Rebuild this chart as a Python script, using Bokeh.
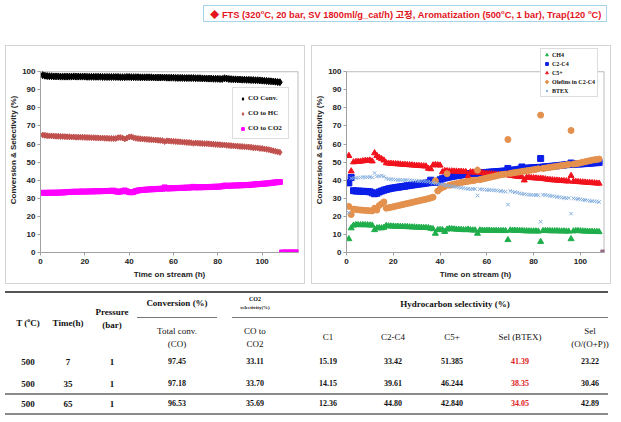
from bokeh.plotting import figure
from bokeh.models import Range1d, FixedTicker, Legend, LegendItem, Div
from bokeh.layouts import column, row
from bokeh.embed import file_html
from bokeh.resources import INLINE

# ---------------- data: left chart ----------------
hours_left = list(range(1, 117))
co_conv = [98.1, 97.8, 97.6, 97.5, 97.5, 97.4, 97.4, 97.4, 97.3, 97.3,
           97.3, 97.3, 97.3, 97.3, 97.4, 97.3, 97.3, 97.3, 97.3, 97.3,
           97.2, 97.2, 97.2, 97.2, 97.2, 97.2, 97.2, 97.1, 97.1, 97.1,
           97.1, 97.1, 97.1, 97.1, 97.1, 97.0, 97.0, 97.0, 97.1, 97.1,
           97.0, 97.0, 97.0, 97.0, 96.9, 96.9, 96.9, 96.9, 96.9, 96.9,
           96.8, 96.8, 96.8, 96.8, 96.8, 96.8, 96.7, 96.7, 96.7, 96.7,
           96.6, 96.6, 96.6, 96.6, 96.5, 96.5, 96.5, 96.5, 96.5, 96.4,
           96.4, 96.4, 96.3, 96.3, 96.2, 96.2, 96.2, 96.1, 96.1, 96.1,
           96.0, 96.0, 96.4, 96.2, 96.0, 95.9, 95.8, 95.8, 95.7, 95.7,
           95.6, 95.6, 95.5, 95.5, 95.4, 95.4, 95.3, 95.3, 95.2, 95.1,
           95.0, 94.9, 94.8, 94.7, 94.6, 94.5, 94.3, 94.2]
co_to_hc = [65.0, 64.8, 64.6, 64.5, 64.5, 64.4, 64.3, 64.3, 64.2, 64.2,
            64.1, 64.0, 64.0, 63.9, 63.9, 63.8, 63.8, 63.8, 63.7, 63.7,
            63.6, 63.6, 63.5, 63.5, 63.4, 63.4, 63.3, 63.3, 63.2, 63.2,
            63.1, 63.1, 63.0, 63.1, 63.5, 63.6, 63.4, 62.8, 63.3, 63.9,
            64.0, 63.5, 63.2, 63.0, 62.9, 62.8, 62.7, 62.6, 62.5, 62.4,
            62.3, 62.2, 62.1, 62.0, 61.9, 61.4, 61.8, 61.7, 61.6, 61.5,
            61.4, 61.3, 61.2, 61.1, 61.0, 60.9, 60.8, 60.7, 60.4, 60.6,
            60.5, 60.4, 60.3, 60.2, 60.2, 60.1, 60.0, 59.9, 59.8, 59.7,
            59.6, 59.5, 59.5, 59.3, 59.2, 59.1, 59.0, 58.9, 58.8, 58.7,
            58.6, 58.5, 58.4, 58.3, 58.2, 58.0, 57.9, 57.8, 57.6, 57.5,
            57.3, 57.1, 56.9, 56.6, 56.3, 56.0, 55.7, 55.4]
co_to_co2 = [33.0, 33.0, 33.0, 33.1, 33.0, 33.1, 33.1, 33.1, 33.2, 33.2,
             33.3, 33.4, 33.5, 33.5, 33.6, 33.6, 33.6, 33.7, 33.7, 33.7,
             33.7, 33.8, 33.8, 33.8, 33.9, 33.9, 33.9, 34.0, 34.0, 34.0,
             34.1, 34.1, 34.2, 33.8, 33.6, 33.7, 33.9, 34.3, 33.8, 33.4,
             33.3, 33.5, 34.0, 34.3, 34.5, 34.6, 34.7, 34.8, 34.9, 35.0,
             35.0, 35.1, 35.2, 35.2, 35.3, 36.0, 35.4, 35.5, 35.5, 35.6,
             35.6, 35.7, 35.7, 35.8, 35.8, 35.9, 35.9, 36.0, 36.3, 36.0,
             36.1, 36.1, 36.1, 36.2, 36.2, 36.2, 36.3, 36.3, 36.4, 36.4,
             36.5, 36.6, 37.0, 36.9, 36.9, 37.0, 37.0, 37.1, 37.1, 37.2,
             37.2, 37.3, 37.3, 37.4, 37.5, 37.6, 37.7, 37.8, 37.9, 38.0,
             38.1, 38.2, 38.3, 38.5, 38.6, 38.8, 38.9, 39.0,
             0, 0, 0, 0, 0, 0, 0, 0]

# ---------------- data: right chart ----------------
hours_right = list(range(1, 109))
ch4 = [7.5, 13.5, 15.0, 15.3, 15.3, 15.2, 15.3, 15.2, 15.2, 15.1,
       15.0, 12.5, 13.5, 13.6, 13.5, 13.8, 14.8, 14.6, 14.5, 14.5,
       14.4, 14.4, 14.3, 14.3, 14.2, 14.2, 14.1, 14.0, 14.0, 13.9,
       13.8, 13.8, 13.7, 13.7, 13.6, 13.3, 13.0, 10.5, 12.5, 12.6,
       12.5, 11.5, 12.8, 13.2, 13.0, 12.9, 12.8, 12.7, 12.6, 12.5,
       12.5, 12.8, 12.4, 12.3, 12.3, 10.5, 12.3, 12.2, 12.2, 12.2,
       12.2, 12.1, 12.1, 12.1, 12.0, 12.0, 12.0, 12.0, 7.0, 12.3,
       12.2, 12.2, 12.1, 12.1, 12.0, 11.9, 11.9, 11.8, 11.8, 11.8,
       11.8, 11.7, 6.0, 12.0, 12.0, 12.0, 11.9, 11.9, 11.9, 11.9,
       11.8, 11.8, 11.8, 11.7, 11.7, 7.5, 11.8, 12.0, 12.0, 11.9,
       11.8, 11.7, 11.7, 11.6, 11.6, 11.5, 11.5, 11.4]
c2_c4 = [38.5, 41.5, 34.2, 34.0, 34.0, 33.9, 33.8, 33.8, 33.7, 33.6,
         33.0, 32.5, 32.8, 33.5, 34.0, 34.5, 34.8, 35.2, 35.5, 35.7,
         35.9, 36.1, 36.3, 36.5, 36.7, 36.9, 37.1, 37.3, 37.5, 37.7,
         37.9, 38.0, 38.2, 38.4, 38.6, 40.0, 39.0, 38.8, 39.0, 40.2,
         40.8, 41.2, 41.5, 41.8, 42.0, 42.3, 42.5, 42.7, 42.9, 43.1,
         43.3, 43.5, 43.6, 43.7, 43.8, 44.0, 44.0, 44.1, 44.2, 44.3,
         44.4, 44.5, 44.6, 44.7, 44.8, 44.9, 45.0, 45.1, 46.5, 45.3,
         45.5, 45.7, 45.9, 46.1, 47.3, 46.5, 46.6, 46.7, 46.8, 46.9,
         47.0, 47.1, 52.0, 47.3, 47.4, 47.5, 47.6, 47.7, 47.9, 48.0,
         48.1, 48.3, 48.4, 48.6, 48.7, 49.5, 48.8, 48.9, 49.0, 49.0,
         49.1, 49.2, 49.3, 49.4, 49.5, 49.6, 49.7, 49.8]
c5_plus = [53.5, 45.0, 50.0, 50.2, 50.3, 50.4, 50.6, 50.8, 50.9, 51.0,
           50.5, 55.0, 53.5, 52.5, 51.8, 51.0, 49.5, 49.3, 49.2, 49.1,
           49.0, 48.9, 48.8, 48.7, 48.6, 48.5, 48.4, 48.3, 48.2, 48.1,
           48.0, 47.9, 47.8, 47.7, 46.5, 46.2, 48.3, 48.5, 48.4, 48.2,
           44.5, 45.2, 45.1, 45.0, 45.0, 44.9, 44.9, 44.8, 44.8, 44.7,
           44.6, 42.2, 44.5, 44.4, 44.3, 45.5, 44.2, 44.0, 43.8, 43.6,
           43.5, 43.4, 43.3, 43.2, 43.1, 43.0, 43.0, 42.9, 43.5, 42.6,
           42.4, 42.2, 42.1, 42.0, 41.8, 40.0, 41.5, 41.4, 41.3, 41.2,
           41.1, 41.0, 41.0, 40.8, 40.6, 40.4, 40.2, 40.1, 40.0, 39.9,
           39.8, 39.7, 39.6, 39.5, 39.4, 42.5, 39.3, 39.2, 39.1, 39.0,
           38.9, 38.8, 38.7, 38.6, 38.5, 38.4, 38.3, 38.2]
olefins = [25.5, 21.0, 24.0, 23.8, 23.6, 23.5, 23.4, 23.3, 23.2, 23.1,
           23.0, 24.5, 23.5, 26.0, 27.0, 28.0, 24.5, 24.8, 25.0, 25.3,
           25.6, 25.9, 26.2, 26.5, 26.8, 27.1, 27.4, 27.7, 28.0, 28.3,
           28.6, 28.9, 29.2, 29.5, 29.8, 30.2, 30.6, 39.7, 34.0, 35.2,
           36.0, 36.5, 43.6, 37.2, 37.5, 37.8, 38.1, 38.4, 38.7, 39.0,
           39.2, 39.4, 39.6, 39.8, 40.0, 45.5, 40.3, 40.6, 40.9, 41.2,
           41.5, 41.8, 42.1, 42.4, 42.7, 43.0, 43.2, 43.4, 62.5, 43.7,
           44.0, 44.2, 44.4, 44.6, 44.8, 45.0, 45.2, 45.4, 45.6, 45.8,
           46.0, 46.3, 76.0, 46.5, 46.7, 46.9, 47.1, 47.3, 47.5, 47.7,
           47.9, 48.1, 48.3, 48.5, 48.7, 67.5, 48.9, 49.1, 49.3, 49.6,
           49.9, 50.2, 50.5, 50.8, 51.1, 51.3, 51.5, 51.7]
btex = [22.0, 41.0, 41.2, 41.3, 41.4, 41.5, 41.6, 41.6, 41.7, 41.7,
        41.5, 44.0, 42.0, 42.3, 42.5, 42.0, 41.0, 40.6, 40.5, 40.4,
        40.3, 40.2, 40.2, 40.1, 40.0, 40.0, 39.9, 39.8, 39.8, 39.7,
        39.6, 39.5, 39.4, 39.3, 39.2, 38.8, 38.5, 38.3, 38.0, 37.8,
        37.5, 37.2, 37.0, 36.8, 36.6, 36.4, 36.2, 36.0, 35.8, 35.6,
        35.4, 35.2, 35.0, 35.2, 35.1, 31.5, 35.0, 34.9, 34.8, 34.7,
        34.6, 34.5, 34.4, 34.3, 34.2, 34.0, 33.8, 33.6, 26.5, 34.0,
        33.7, 33.4, 33.1, 32.8, 32.5, 32.3, 32.1, 32.0, 31.9, 31.8,
        31.8, 31.7, 17.0, 32.0, 31.8, 31.6, 31.4, 31.2, 31.0, 30.8,
        30.6, 30.4, 30.2, 30.0, 30.2, 21.5, 30.0, 29.8, 29.6, 29.4,
        29.2, 29.0, 28.8, 28.6, 28.4, 28.3, 28.2, 28.0]
end_hours = [109.8]
end_zero = [0]

x_ticks = [0, 20, 40, 60, 80, 100]
y_ticks = [0, 10, 20, 30, 40, 50, 60, 70, 80, 90, 100]
Y_MAX = 100

# ---------------- table data ----------------
tbl_T = ["500", "500", "500"]
tbl_time = ["7", "35", "65"]
tbl_pressure = ["1", "1", "1"]
tbl_total_conv = ["97.45", "97.18", "96.53"]
tbl_co_to_co2 = ["33.11", "33.70", "35.69"]
tbl_c1 = ["15.19", "14.15", "12.36"]
tbl_c2c4 = ["33.42", "39.61", "44.80"]
tbl_c5p = ["51.385", "46.244", "42.840"]
tbl_btex = ["41.39", "38.35", "34.05"]
tbl_oop = ["23.22", "30.46", "42.89"]

AXF = "Liberation Sans"
LEGF = "Liberation Serif"
FRAME_COL = "#bcbcbc"
AXIS_COL = "#a0a0a0"
HEADROOM = 24   # px of blank frame above y = 100 (legend space)


def make_fig(xmax, mbl, mbr):
    fh = 179 + HEADROOM
    ytop = Y_MAX * fh / 179.0
    p = figure(frame_width=256, frame_height=fh,
               x_range=Range1d(0, xmax), y_range=Range1d(0, ytop),
               output_backend="svg", toolbar_location=None, title_location=None,
               min_border_left=mbl, min_border_right=mbr,
               min_border_top=1, min_border_bottom=33,
               background_fill_color="white", border_fill_color="white",
               margin=0, styles={"border": "1px solid #d4d4d4"})
    p.xgrid.visible = False
    p.ygrid.visible = False
    for ax in (p.xaxis[0], p.yaxis[0]):
        ax.axis_line_color = AXIS_COL
        ax.major_tick_line_color = AXIS_COL
        ax.major_tick_out = 3
        ax.major_tick_in = 0
        ax.minor_tick_line_color = None
        ax.major_label_text_font = AXF
        ax.major_label_text_font_style = "bold"
        ax.major_label_text_font_size = "8px"
        ax.major_label_text_color = "#222222"
        ax.axis_label_text_font = AXF
        ax.axis_label_text_font_style = "bold"
        ax.axis_label_text_font_size = "8px"
        ax.axis_label_text_color = "#222222"
    p.xaxis.ticker = FixedTicker(ticks=x_ticks)
    p.yaxis.ticker = FixedTicker(ticks=y_ticks)
    p.xaxis.axis_label = "Time on stream (h)"
    p.yaxis.axis_label = "Conversion & Selectivity (%)"
    p.xaxis.major_label_standoff = 3
    p.yaxis.major_label_standoff = 2
    p.xaxis.axis_label_standoff = 3
    p.yaxis.axis_label_standoff = 1
    p.outline_line_color = None
    p.yaxis.bounds = (0, Y_MAX)
    # plot-area border at y = 100 and at the right edge
    p.line([0, xmax], [Y_MAX, Y_MAX], line_color=FRAME_COL, line_width=1)
    p.line([xmax, xmax], [0, Y_MAX], line_color=FRAME_COL, line_width=2)
    return p


def style_legend(lg, pad, spacing, fs):
    lg.border_line_color = FRAME_COL
    lg.background_fill_color = "white"
    lg.background_fill_alpha = 1
    lg.padding = pad
    lg.spacing = spacing
    lg.margin = 0
    lg.label_height = 7
    lg.glyph_height = 7
    lg.glyph_width = 7
    lg.label_standoff = 2
    lg.label_text_font = LEGF
    lg.label_text_font_style = "bold"
    lg.label_text_font_size = fs
    lg.label_text_color = "#111111"


# ---------------- left chart ----------------
p1 = make_fig(116.4, 33, 8)
r_conv = p1.scatter(hours_left[:len(co_conv)], co_conv, marker="diamond", size=7,
                    color="#000000")
r_hc = p1.scatter(hours_left[:len(co_to_hc)], co_to_hc, marker="diamond", size=6,
                  color="#c0504d")
r_co2 = p1.scatter(hours_left, co_to_co2, marker="square", size=5, color="#ff00ff")
lg1 = Legend(items=[LegendItem(label="CO Conv.", renderers=[r_conv]),
                    LegendItem(label="CO to HC", renderers=[r_hc]),
                    LegendItem(label="CO to CO2", renderers=[r_co2])],
             location=(192, 113))
style_legend(lg1, 6, 7, "7px")
p1.add_layout(lg1)

# ---------------- right chart ----------------
p2 = make_fig(110.3, 33, 8)
r_ch4 = p2.scatter(hours_right, ch4, marker="triangle", size=6, color="#1fae4b")
r_c24 = p2.scatter(hours_right, c2_c4, marker="square", size=6, color="#0b1fe8")
r_c5 = p2.scatter(hours_right, c5_plus, marker="triangle", size=6, color="#f0121c")
r_ol = p2.scatter(hours_right, olefins, marker="circle", size=6, color="#e4914e")
r_bx = p2.scatter(hours_right, btex, marker="x", size=5, line_width=1, color="#86b0e0")
p2.scatter(end_hours, end_zero, marker="square", size=5, color="#9a6a8a")
lg2 = Legend(items=[LegendItem(label="CH4", renderers=[r_ch4]),
                    LegendItem(label="C2-C4", renderers=[r_c24]),
                    LegendItem(label="C5+", renderers=[r_c5]),
                    LegendItem(label="Olefins in C2-C4", renderers=[r_ol]),
                    LegendItem(label="BTEX", renderers=[r_bx])],
             location=(194, 155))
style_legend(lg2, 2, 2, "6px")
p2.add_layout(lg2)

# ---------------- title ----------------
SUP = '<sup style="font-size:6px;vertical-align:4px;line-height:0">o</sup>'
title_html = (
    '<div style="position:relative;width:610px;height:40px;">'
    '<div style="position:absolute;left:198px;top:0px;width:404px;height:17px;'
    'border:1px solid #a6d4ea;padding-left:6px;white-space:nowrap;'
    "font-family:'Liberation Sans','Noto Sans CJK KR';font-weight:bold;font-size:9.3px;"
    'line-height:18px;color:#e3141c;">'
    '\u25c6 FTS (320' + SUP + 'C, 20 bar, SV 1800ml/g_cat/h) 고정, Aromatization (500'
    + SUP + 'C, 1 bar), Trap(120 ' + SUP + 'C)</div></div>'
)
title_div = Div(text=title_html, width=610, height=40, margin=0)

# ---------------- table ----------------
OX, OY = 5, 284   # page origin of the table div


def cell(cx, cy, html, size=9, bold=True, color="#111111", w=90):
    return ('<div style="position:absolute;left:%dpx;top:%dpx;width:%dpx;'
            'text-align:center;font-family:\'Liberation Serif\';font-size:%dpx;'
            'font-weight:%s;color:%s;line-height:%dpx;white-space:nowrap;">%s</div>'
            % (cx - OX - w // 2, cy - OY - size // 2 - 1, w, size,
               "bold" if bold else "normal", color, size + 2, html))


def hline(x0, x1, y, th, col):
    return ('<div style="position:absolute;left:%dpx;top:%dpx;width:%dpx;height:%dpx;'
            'background:%s;"></div>' % (x0 - OX, y - OY, x1 - x0, th, col))


cols_x = [28, 68, 112, 177, 255, 328, 393, 452, 520, 590]
rows_y = [362, 384, 404]
parts = []
parts.append(hline(5, 608, 291, 2, "#555555"))
parts.append(hline(137, 217, 317, 1, "#777777"))
parts.append(hline(232, 608, 317, 1, "#777777"))
parts.append(hline(5, 608, 393, 2, "#8a8a8a"))
parts.append(hline(5, 608, 413, 2, "#8a8a8a"))
parts.append(cell(28, 323, "T (<sup style='font-size:6px;line-height:0'>o</sup>C)", 9))
parts.append(cell(68, 323, "Time(h)", 9))
parts.append(cell(112, 312, "Pressure", 9))
parts.append(cell(112, 325, "(bar)", 9))
parts.append(cell(177, 303, "Conversion (%)", 9))
parts.append(cell(255, 299, "CO2", 6))
parts.append(cell(255, 307, "selectivity(%)", 5))
parts.append(cell(455, 304, "Hydrocarbon selectivity (%)", 9, w=200))
parts.append(cell(177, 331, "Total conv.", 9, bold=False))
parts.append(cell(177, 344, "(CO)", 9, bold=False))
parts.append(cell(255, 331, "CO to", 9, bold=False))
parts.append(cell(255, 344, "CO2", 9, bold=False))
parts.append(cell(328, 337, "C1", 9, bold=False))
parts.append(cell(393, 337, "C2-C4", 9, bold=False))
parts.append(cell(452, 337, "C5+", 9, bold=False))
parts.append(cell(520, 337, "Sel (BTEX)", 9, bold=False))
parts.append(cell(590, 331, "Sel", 9, bold=False))
parts.append(cell(590, 344, "(O/(O+P))", 9, bold=False))
columns = [tbl_T, tbl_time, tbl_pressure, tbl_total_conv, tbl_co_to_co2,
           tbl_c1, tbl_c2c4, tbl_c5p, tbl_btex, tbl_oop]
for ci, (cx, vals) in enumerate(zip(cols_x, columns)):
    for ry, v in zip(rows_y, vals):
        color = "#e02020" if ci == 8 else "#111111"
        size = 9 if ci < 3 else 8
        parts.append(cell(cx, ry, v, size, bold=True, color=color))

table_html = ('<div style="position:relative;width:610px;height:132px;">'
              + "".join(parts) + "</div>")
table_div = Div(text=table_html, width=610, height=132, margin=0)

charts = row(p1, p2, spacing=6, margin=0)
page = column(title_div, charts, table_div, spacing=0, margin=(5, 0, 0, 5))

with open("out.html", "w") as f:
    f.write(file_html(page, INLINE))
